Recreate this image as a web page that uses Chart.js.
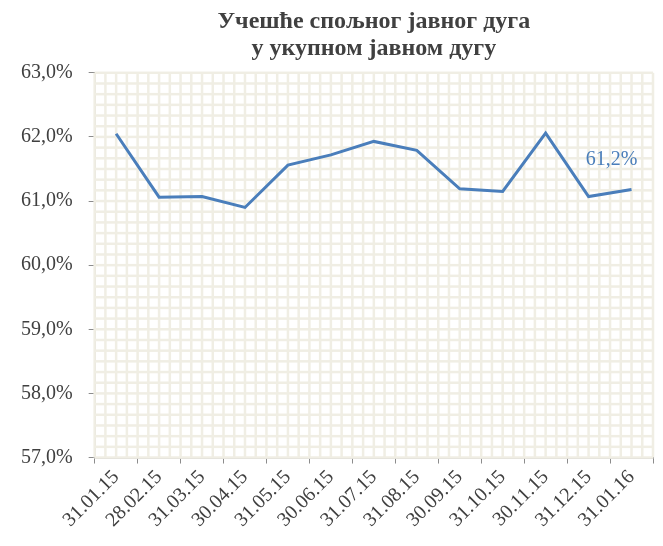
<!DOCTYPE html>
<html>
<head>
<meta charset="utf-8">
<script src="https://cdn.jsdelivr.net/npm/chart.js@4"></script>
<style>
  body { margin: 0; background: #fff; }
</style>
</head>
<body>
<canvas id="myChart" width="663" height="546"></canvas>
<script>
// датуми и учешће спољног дуга (%)
const dates = ['31.01.15', '28.02.15', '31.03.15', '30.04.15', '31.05.15', '30.06.15', '31.07.15',
               '31.08.15', '30.09.15', '31.10.15', '30.11.15', '31.12.15', '31.01.16'];
const shares = [62.05, 61.06, 61.07, 60.90, 61.56, 61.72, 61.93, 61.79, 61.19, 61.15, 62.06, 61.07, 61.18];
const lastLabel = '61,2%';
const titleLines = ['Учешће спољног јавног дуга', 'у укупном јавном дугу'];

const serif = "'Liberation Serif', 'Times New Roman', serif";
const blue = '#4a7ebb';
const axisGray = '#8c8c8c';

// beige "graph paper" fill behind the line
const paperGrid = {
    id: 'paperGrid',
    beforeDatasetsDraw(chart) {
        const a = chart.chartArea;
        const c = chart.ctx;
        c.save();
        c.fillStyle = '#f0eee4';
        const nx = dates.length * 4, ny = 6 * 6;
        for (let i = 0; i <= nx; i++) {
            const x = a.left + i * (a.right - a.left) / nx;
            c.fillRect(x - 1.25, a.top, 2.5, a.bottom - a.top);
        }
        for (let j = 0; j <= ny; j++) {
            const y = a.top + j * (a.bottom - a.top) / ny;
            c.fillRect(a.left, y - 1.25, a.right - a.left, 2.5);
        }
        c.restore();
    }
};

// value label on the last point
const lastValue = {
    id: 'lastValue',
    afterDatasetsDraw(chart) {
        const pts = chart.getDatasetMeta(0).data;
        const p = pts[pts.length - 1];
        const c = chart.ctx;
        c.save();
        c.font = '20px ' + serif;
        c.fillStyle = blue;
        c.textAlign = 'center';
        c.textBaseline = 'middle';
        c.fillText(lastLabel, p.x - 20, p.y - 30);
        c.restore();
    }
};

const ctx = document.getElementById('myChart').getContext('2d');
const myChart = new Chart(ctx, {
    type: 'line',
    data: {
        labels: dates,
        datasets: [{
            data: shares,
            borderColor: blue,
            borderWidth: 3,
            pointRadius: 0,
            tension: 0,
            fill: false
        }]
    },
    options: {
        responsive: false,
        animation: false,
        layout: { padding: { left: 5, right: 10, top: 4, bottom: 12 } },
        plugins: {
            legend: { display: false },
            tooltip: { enabled: false },
            title: {
                display: true,
                text: titleLines,
                fullSize: false,
                color: '#404040',
                font: { family: serif, size: 24, weight: 'bold', lineHeight: 1.1 },
                padding: { top: 5, bottom: 11 }
            }
        },
        scales: {
            x: {
                offset: true,
                grid: { offset: true, drawOnChartArea: false, drawTicks: true, tickLength: 6, color: axisGray },
                border: { display: true, color: axisGray, width: 1.5 },
                ticks: {
                    color: '#404040',
                    font: { family: serif, size: 20 },
                    maxRotation: 45,
                    minRotation: 45,
                    autoSkip: false,
                    padding: 2
                }
            },
            y: {
                min: 57,
                max: 63,
                grid: { drawOnChartArea: false, drawTicks: true, tickLength: 6, color: axisGray },
                border: { display: true, color: axisGray, width: 1.5 },
                ticks: {
                    stepSize: 1,
                    color: '#404040',
                    font: { family: serif, size: 20 },
                    padding: 16,
                    callback: (v) => v.toFixed(1).replace('.', ',') + '%'
                }
            }
        }
    },
    plugins: [paperGrid, lastValue]
});
</script>
</body>
</html>
